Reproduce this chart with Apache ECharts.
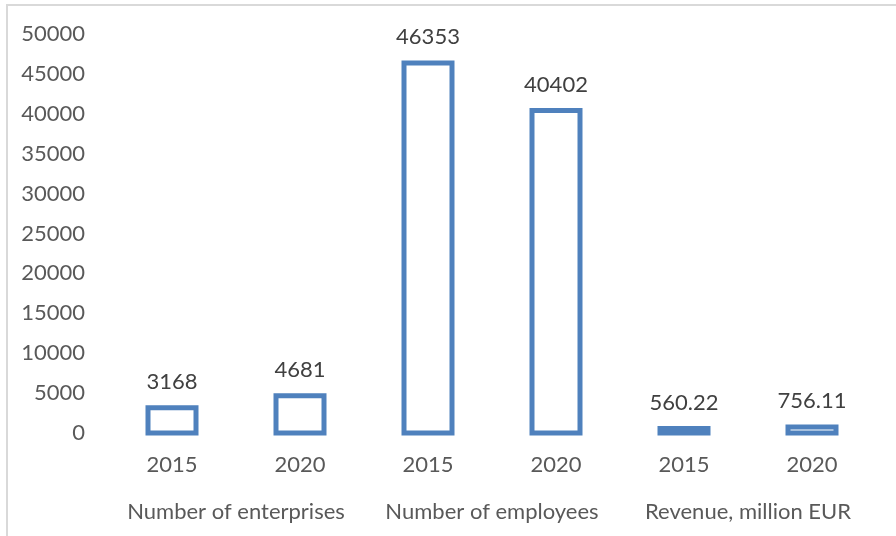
<!DOCTYPE html>
<html>
<head>
<meta charset="utf-8">
<script src="https://cdn.jsdelivr.net/npm/echarts@6/dist/echarts.min.js"></script>
<style>
  html, body { margin: 0; padding: 0; background: #fff; }
  #chart { width: 896px; height: 536px; }
</style>
</head>
<body>
<div id="chart"></div>
<script>
// Indicator groups and the years shown under each group
const groups = ['Number of enterprises', 'Number of employees', 'Revenue, million EUR'];
const years = ['2015', '2020', '2015', '2020', '2015', '2020'];
// Values per bar, in the same order as the years row
const values = [3168, 4681, 46353, 40402, 560.22, 756.11];
// Value axis ticks
const yMin = 0, yMax = 50000, yStep = 5000;

const FONT = 'Lato';
const blue = '#4F81BD';
const axisGrey = '#595959';
const BAR_W = 48;      // width measured at the middle of the outline
const OUTLINE = 5;

const chart = echarts.init(document.getElementById('chart'), null, { renderer: 'canvas' });

// Hollow bars: outline centred on the bar edges, so it grows outward like an Office chart
function renderOutlinedBar(params, api) {
  const top = api.coord([api.value(0), api.value(1)]);
  const base = api.coord([api.value(0), 0]);
  return {
    type: 'rect',
    shape: { x: top[0] - BAR_W / 2, y: top[1], width: BAR_W, height: base[1] - top[1] },
    style: { fill: '#ffffff', stroke: blue, lineWidth: OUTLINE }
  };
}

chart.setOption({
  animation: false,
  textStyle: { fontFamily: FONT },
  graphic: [{
    type: 'rect',
    shape: { x: 7, y: 5, width: 900, height: 540 },
    style: { fill: 'none', stroke: '#d9d9d9', lineWidth: 2 },
    silent: true,
    z: -1
  }],
  grid: { left: 108, right: 20, top: 34, bottom: 103, containLabel: false },
  xAxis: [{
    type: 'category',
    data: years,
    axisLine: { show: false },
    axisTick: { show: false },
    axisLabel: { color: axisGrey, fontSize: 22, fontFamily: FONT, margin: 21, interval: 0 }
  }, {
    type: 'category',
    data: groups,
    position: 'bottom',
    offset: 68,
    axisLine: { show: false },
    axisTick: { show: false },
    axisLabel: { color: axisGrey, fontSize: 22, fontFamily: FONT, margin: 0, interval: 0 }
  }],
  yAxis: {
    type: 'value',
    min: yMin,
    max: yMax,
    interval: yStep,
    axisLine: { show: false },
    axisTick: { show: false },
    splitLine: { show: false },
    axisLabel: {
      color: axisGrey, fontSize: 22, fontFamily: FONT, margin: 23,
      formatter: v => String(v)
    }
  },
  series: [{
    type: 'custom',
    xAxisIndex: 0,
    renderItem: renderOutlinedBar,
    encode: { x: 0, y: 1 },
    data: values.map((v, i) => [i, v]),
    z: 2
  }, {
    // value labels above each bar
    type: 'bar',
    xAxisIndex: 0,
    data: values,
    barWidth: BAR_W,
    itemStyle: { color: 'rgba(0,0,0,0)' },
    silent: true,
    z: 3,
    label: {
      show: true,
      position: 'top',
      distance: 15,
      color: '#404040',
      fontSize: 22,
      fontFamily: FONT,
      formatter: p => String(p.value)
    }
  }]
});
</script>
</body>
</html>
